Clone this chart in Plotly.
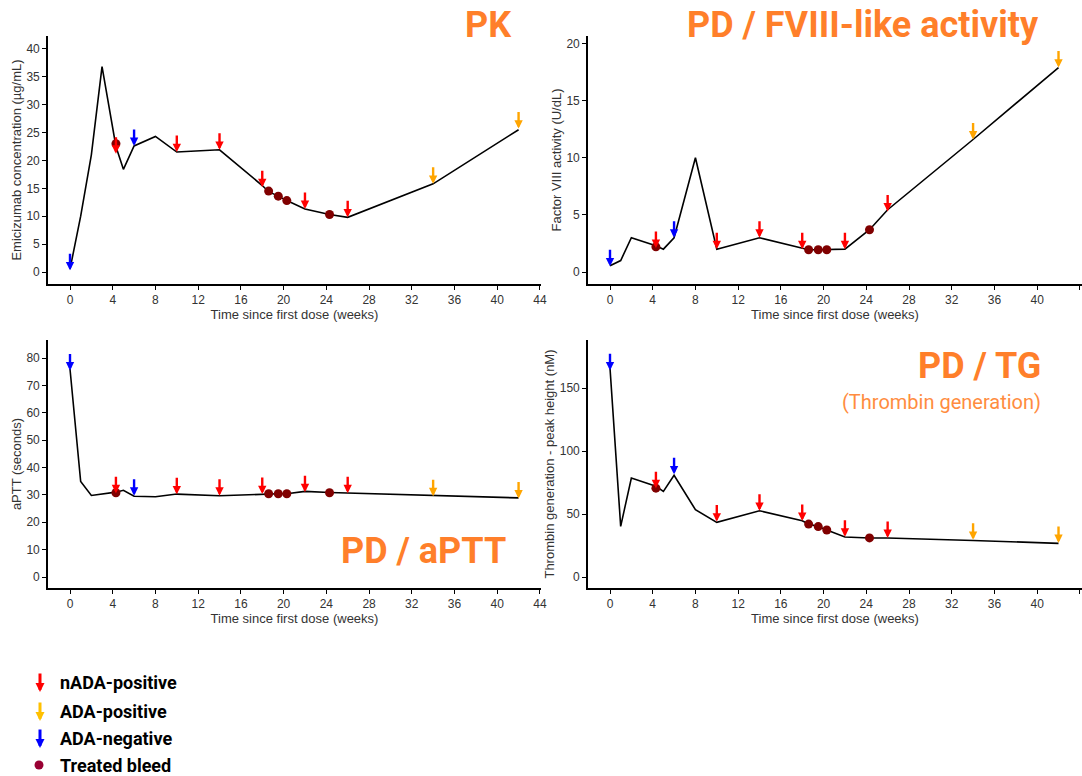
import plotly.graph_objects as go

# ---------------- data ----------------
x_ticks = [0, 4, 8, 12, 16, 20, 24, 28, 32, 36, 40, 44]

pk_weeks = [0, 1, 2, 3, 4.3, 5, 6, 8, 10, 14, 18, 18.6, 19.5, 20.3, 22, 24.3, 26, 34, 42]
pk_values = [0.5, 10, 21, 36.8, 22.5, 18.4, 22.6, 24.3, 21.5, 21.9, 15.5, 14.4, 13.6, 12.8, 11.3, 10.3, 9.8, 15.8, 25.5]

fviii_weeks = [0, 1, 2, 4.3, 5, 6, 8, 10, 14, 18, 18.6, 19.5, 20.3, 22, 24.3, 26, 34, 42]
fviii_values = [0.55, 1.0, 3.0, 2.3, 2.0, 3.0, 10.0, 2.0, 3.0, 2.1, 1.95, 1.95, 1.95, 2.0, 3.7, 5.45, 11.6, 17.9]

aptt_weeks = [0, 1, 2, 4.3, 5, 6, 8, 10, 14, 18, 18.6, 19.5, 20.3, 22, 24.3, 26, 34, 42]
aptt_values = [76.0, 34.9, 29.8, 31.0, 31.7, 29.5, 29.3, 30.3, 29.7, 30.4, 30.4, 30.4, 30.4, 31.3, 30.9, 30.7, 29.8, 28.9]

tg_weeks = [0, 1, 2, 4.3, 5, 6, 8, 10, 14, 18, 18.6, 19.5, 20.3, 22, 24.3, 26, 34, 42]
tg_values = [165.9, 40.2, 78.6, 72, 68, 80.7, 53.4, 43.4, 52.6, 44.7, 42, 40, 37.3, 31.7, 31, 31, 29, 26.7]

# ADA sampling visits
ada_weeks = [0, 4.3, 6, 10, 14, 18, 22, 26, 34, 42]
ada_status = ["ADA-negative", "nADA-positive", "ADA-negative", "nADA-positive", "nADA-positive",
              "nADA-positive", "nADA-positive", "nADA-positive", "ADA-positive", "ADA-positive"]
pk_ada_values = [0.3, 21.2, 22.6, 21.5, 21.9, 15.2, 11.3, 9.8, 15.8, 25.7]
fviii_ada_values = [0.5, 2.1, 3.0, 2.0, 3.0, 2.0, 2.0, 5.3, 11.6, 17.9]
aptt_ada_values = [75.5, 30.6, 29.7, 30.2, 29.7, 30.3, 31.0, 30.6, 29.5, 28.7]
tg_ada_values = [164, 70.5, 81.5, 44, 52.5, 44.5, 32, 31, 29.5, 27]

# treated bleeds
bleed_weeks = [4.3, 18.6, 19.5, 20.3, 24.3]
pk_bleed_values = [23.0, 14.5, 13.6, 12.8, 10.3]
fviii_bleed_values = [2.2, 1.95, 1.95, 1.95, 3.7]
aptt_bleed_values = [30.8, 30.4, 30.4, 30.4, 30.8]
tg_bleed_values = [70.5, 42, 40, 37.3, 31]

legend_labels = ["nADA-positive", "ADA-positive", "ADA-negative", "Treated bleed"]

# ---------------- styling ----------------
W, H = 1082, 776
status_color = {"nADA-positive": "#FF0000", "ADA-positive": "#FFA500", "ADA-negative": "#0000FF"}
legend_colors = ["#FF0000", "#FFC000", "#0000FF", "#990033"]
orange = "#FF7F2A"
tick_font = dict(family="Liberation Sans, Arial", size=12, color="#333333")
title_font = dict(family="Liberation Sans, Arial", size=13, color="#333333")


def px_x(p):
    return p / W


def px_y(p):
    return 1 - p / H


panels = [
    dict(weeks=pk_weeks, vals=pk_values, ada=pk_ada_values, bleed=pk_bleed_values,
         xd=[48, 541], yd=[36, 284], xr=[-2.06, 44.1], yr=[-2.15, 42.3], dtick=5,
         ytitle="Emicizumab concentration (µg/mL)"),
    dict(weeks=fviii_weeks, vals=fviii_values, ada=fviii_ada_values, bleed=fviii_bleed_values,
         xd=[588, 1082], yd=[36, 284], xr=[-2.06, 44.2], yr=[-1.05, 20.66], dtick=5,
         ytitle="Factor VIII activity (U/dL)"),
    dict(weeks=aptt_weeks, vals=aptt_values, ada=aptt_ada_values, bleed=aptt_bleed_values,
         xd=[48, 541], yd=[340, 588], xr=[-2.06, 44.1], yr=[-4.02, 86.6], dtick=10,
         ytitle="aPTT (seconds)"),
    dict(weeks=tg_weeks, vals=tg_values, ada=tg_ada_values, bleed=tg_bleed_values,
         xd=[588, 1082], yd=[340, 588], xr=[-2.06, 44.2], yr=[-8.73, 188.1], dtick=50,
         ytitle="Thrombin generation - peak height (nM)"),
]

fig = go.Figure()
annotations = []
layout = {}

for i, p in enumerate(panels, start=1):
    sfx = "" if i == 1 else str(i)
    xa, ya = "x" + sfx, "y" + sfx
    fig.add_trace(go.Scatter(x=p["weeks"], y=p["vals"], mode="lines",
                             line=dict(color="black", width=1.6),
                             xaxis=xa, yaxis=ya, showlegend=False, hoverinfo="skip"))
    fig.add_trace(go.Scatter(x=bleed_weeks, y=p["bleed"], mode="markers",
                             marker=dict(color="#800000", size=9),
                             xaxis=xa, yaxis=ya, showlegend=False, hoverinfo="skip"))
    for w, v, s in zip(ada_weeks, p["ada"], ada_status):
        annotations.append(dict(x=w, y=v, xref=xa, yref=ya, text="", showarrow=True,
                                ax=0, ay=-18, arrowhead=2, arrowsize=0.7, arrowwidth=2.4,
                                arrowcolor=status_color[s]))
    axis_common = dict(showline=True, linecolor="black", linewidth=1.6, ticks="outside",
                       ticklen=4, tickwidth=1.3, tickcolor="black", showgrid=False,
                       zeroline=False, tickfont=tick_font, fixedrange=True, automargin=False)
    layout["xaxis" + sfx] = dict(domain=[px_x(p["xd"][0]), px_x(p["xd"][1])], range=p["xr"],
                                  anchor=ya, tickvals=x_ticks,
                                  title=dict(text="Time since first dose (weeks)", font=title_font, standoff=2),
                                  **axis_common)
    layout["yaxis" + sfx] = dict(domain=[px_y(p["yd"][1]), px_y(p["yd"][0])], range=p["yr"],
                                  anchor=xa, dtick=p["dtick"], tick0=0,
                                  title=dict(text=p["ytitle"], font=title_font, standoff=2),
                                  **axis_common)

# panel headings
heading_font = dict(family="Roboto, Inter, sans-serif", size=36, color=orange, weight="bold")
annotations += [
    dict(text="PK", x=px_x(488), y=px_y(25), xref="paper", yref="paper", showarrow=False,
         font=heading_font, xanchor="center", yanchor="middle"),
    dict(text="PD / FVIII-like activity", x=px_x(863), y=px_y(25), xref="paper", yref="paper",
         showarrow=False, font=heading_font, xanchor="center", yanchor="middle"),
    dict(text="PD / aPTT", x=px_x(508), y=px_y(551), xref="paper", yref="paper",
         showarrow=False, font=heading_font, xanchor="right", yanchor="middle"),
    dict(text="PD / TG", x=px_x(1043), y=px_y(366), xref="paper", yref="paper",
         showarrow=False, font=heading_font, xanchor="right", yanchor="middle"),
    dict(text="(Thrombin generation)", x=px_x(1043), y=px_y(402), xref="paper", yref="paper",
         showarrow=False, font=dict(family="Roboto, sans-serif", size=20, color="#FF8C40"),
         xanchor="right", yanchor="middle"),
]

# custom legend
legend_y = [682, 711, 738, 765]
legend_font = dict(family="Roboto, Inter, sans-serif", size=18, color="black", weight="bold")
for lab, col, yy in zip(legend_labels, legend_colors, legend_y):
    annotations.append(dict(text=lab, x=px_x(58), y=px_y(yy), xref="paper", yref="paper",
                            showarrow=False, font=legend_font, xanchor="left", yanchor="middle"))
    if lab != "Treated bleed":
        annotations.append(dict(text="", x=px_x(40), y=px_y(yy + 10), xref="paper", yref="paper",
                                showarrow=True, ax=0, ay=-20, arrowhead=2, arrowsize=0.6,
                                arrowwidth=3, arrowcolor=col))

shapes = [dict(type="circle", xref="paper", yref="paper", xsizemode="pixel", ysizemode="pixel",
               xanchor=px_x(39), yanchor=px_y(765), x0=-4.5, x1=4.5, y0=-4.5, y1=4.5,
               fillcolor=legend_colors[3], line=dict(width=0))]

fig.update_layout(width=W, height=H, margin=dict(l=0, r=0, t=0, b=0, autoexpand=False),
                  paper_bgcolor="white", plot_bgcolor="white", hovermode=False,
                  annotations=annotations, shapes=shapes, showlegend=False, **layout)

fig.write_html("out.html", config={"displayModeBar": False},
               post_script="document.body.style.margin='0px';document.body.style.overflow='hidden';")
